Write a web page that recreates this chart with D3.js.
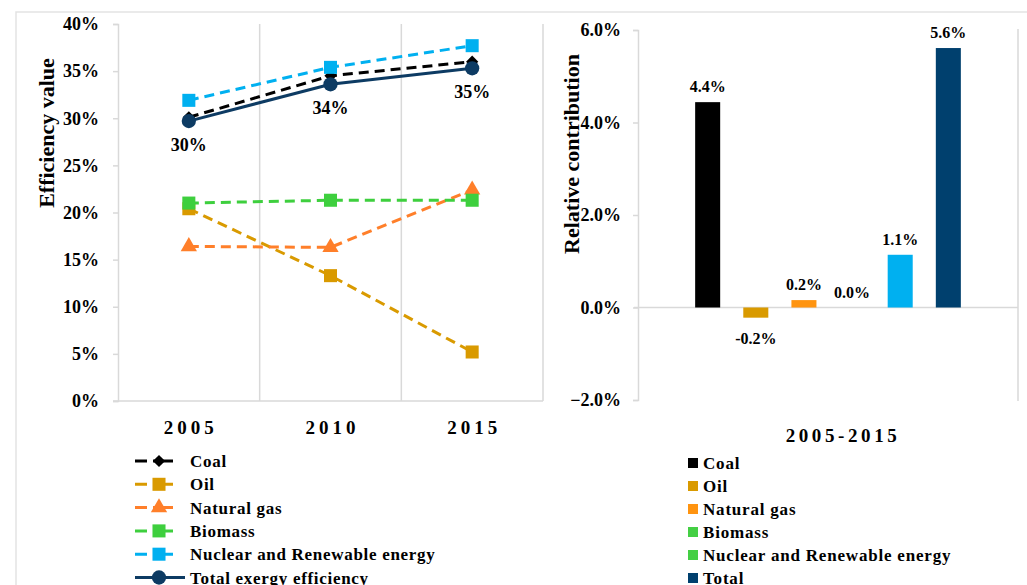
<!DOCTYPE html>
<html>
<head>
<meta charset="utf-8">
<script src="https://cdn.jsdelivr.net/npm/d3@7"></script>
<style>
	html, body { margin: 0; padding: 0; background: #fff; }
	svg text { font-family: "Liberation Serif", "Times New Roman", serif; font-weight: bold; fill: #000; }
</style>
</head>
<body>
<svg id="chart" width="1027" height="585"></svg>
<script>
// left chart: efficiency values per year
const years = ["2005", "2010", "2015"];
const seriesNames = ["Coal", "Oil", "Natural gas", "Biomass", "Nuclear and Renewable energy", "Total exergy efficiency"];
const coal = [0.301, 0.345, 0.360];
const oil = [0.204, 0.133, 0.052];
const naturalGas = [0.164, 0.163, 0.224];
const biomass = [0.210, 0.213, 0.213];
const nuclearRenewable = [0.319, 0.354, 0.377];
const totalExergy = [0.297, 0.336, 0.353];
const effTicks = [0, 0.05, 0.1, 0.15, 0.2, 0.25, 0.3, 0.35, 0.4];

// right chart: relative contribution 2005-2015
const period = ["2005-2015"];
const barNames = ["Coal", "Oil", "Natural gas", "Biomass", "Nuclear and Renewable energy", "Total"];
const contribution = [0.0444, -0.0022, 0.0016, 0.0, 0.0114, 0.0561];
const contribTicks = [-0.02, 0, 0.02, 0.04, 0.06];
const barLegendColors = ["#000000", "#d99a00", "#ff9410", "#44cf44", "#44cf44", "#00406e"];

const svg = d3.select("#chart");
const grid = "#d9d9d9";

// outer frame
svg.append("path")
	.attr("d", "M16,585V12H1027")
	.attr("fill", "none")
	.attr("stroke", "#e3e3e3")
	.attr("stroke-width", 1.5);

// ---------- left chart ----------
const x = d3.scaleBand().domain(years).range([118, 543]);
const y = d3.scaleLinear().domain([0, 0.4]).range([401, 24]);

const gl = svg.append("g");

// vertical gridlines at category boundaries
gl.selectAll("line.vgrid")
	.data(years)
	.enter()
	.append("line")
	.attr("class", "vgrid")
	.attr("x1", (d) => x(d) + x.bandwidth())
	.attr("x2", (d) => x(d) + x.bandwidth())
	.attr("y1", y(0.4))
	.attr("y2", y(0))
	.attr("stroke", grid)
	.attr("stroke-width", 1.5);

const yAxisL = gl.append("g")
	.attr("transform", "translate(118,0)")
	.call(d3.axisLeft(y).tickValues(effTicks).tickFormat(d3.format(".0%")).tickSize(5).tickPadding(14));
yAxisL.select(".domain").attr("stroke", grid).attr("stroke-width", 1.5);
yAxisL.selectAll(".tick line").attr("stroke", grid).attr("stroke-width", 1.5);
yAxisL.selectAll(".tick text").style("font-size", "18px");

gl.append("line")
	.attr("x1", 113).attr("x2", 543)
	.attr("y1", y(0)).attr("y2", y(0))
	.attr("stroke", grid).attr("stroke-width", 1.5);

gl.selectAll("text.xlab")
	.data(years)
	.enter()
	.append("text")
	.attr("class", "xlab")
	.attr("x", (d) => x(d) + x.bandwidth() / 2 + 2)
	.attr("y", 434)
	.attr("text-anchor", "middle")
	.style("font-size", "19px")
	.style("letter-spacing", "4px")
	.text((d) => d);

gl.append("text")
	.attr("transform", "translate(54,133) rotate(-90)")
	.attr("text-anchor", "middle")
	.style("font-size", "22px")
	.text("Efficiency value");

const lineSeries = [
	{ name: seriesNames[0], values: coal, color: "#000000", dash: "10,6", marker: "diamond" },
	{ name: seriesNames[1], values: oil, color: "#d99a00", dash: "10,6", marker: "square" },
	{ name: seriesNames[2], values: naturalGas, color: "#ff7f2a", dash: "10,6", marker: "triangle" },
	{ name: seriesNames[3], values: biomass, color: "#3ecf3e", dash: "10,6", marker: "square" },
	{ name: seriesNames[4], values: nuclearRenewable, color: "#00b0f0", dash: "10,6", marker: "square" },
	{ name: seriesNames[5], values: totalExergy, color: "#0d3b63", dash: null, marker: "circle" },
];

// diamond is a square turned by 45 degrees
const markerSize = { diamond: 75, square: 170, triangle: 115, circle: 160 };
const markerType = { diamond: d3.symbolSquare, square: d3.symbolSquare, triangle: d3.symbolTriangle, circle: d3.symbolCircle };
const markerRot = { diamond: 45, square: 0, triangle: 0, circle: 0 };

const line = d3.line()
	.x((d, i) => x(years[i]) + x.bandwidth() / 2)
	.y((d) => y(d));

lineSeries.forEach((s) => {
	const g = gl.append("g");
	g.append("path")
		.attr("d", line(s.values))
		.attr("fill", "none")
		.attr("stroke", s.color)
		.attr("stroke-width", 3)
		.attr("stroke-dasharray", s.dash);
	g.selectAll("path.mark")
		.data(s.values)
		.enter()
		.append("path")
		.attr("class", "mark")
		.attr("d", d3.symbol().type(markerType[s.marker]).size(markerSize[s.marker]))
		.attr("transform", (d, i) => `translate(${x(years[i]) + x.bandwidth() / 2},${y(d)}) rotate(${markerRot[s.marker]})`)
		.attr("fill", s.color);
});

// total labels
gl.selectAll("text.tot")
	.data(totalExergy)
	.enter()
	.append("text")
	.attr("class", "tot")
	.attr("x", (d, i) => x(years[i]) + x.bandwidth() / 2)
	.attr("y", (d) => y(d) + 30)
	.attr("text-anchor", "middle")
	.style("font-size", "18px")
	.text((d) => d3.format(".0%")(d));

// left legend
const legL = gl.append("g").attr("transform", "translate(0,461)");
lineSeries.forEach((s, i) => {
	const row = legL.append("g").attr("transform", `translate(0,${i * 23.3})`);
	const isTotal = s.dash === null;
	row.append("line")
		.attr("x1", 135).attr("x2", isTotal ? 185 : 173)
		.attr("y1", 0).attr("y2", 0)
		.attr("stroke", s.color)
		.attr("stroke-width", 3)
		.attr("stroke-dasharray", s.dash ? "12,6,20" : null);
	row.append("path")
		.attr("d", d3.symbol().type(markerType[s.marker]).size(markerSize[s.marker]))
		.attr("transform", `translate(159,0) rotate(${markerRot[s.marker]})`)
		.attr("fill", s.color);
	row.append("text")
		.attr("x", 190)
		.attr("y", 6)
		.style("font-size", "17px")
		.style("letter-spacing", "0.7px")
		.text(s.name);
});

// ---------- right chart ----------
const xr = d3.scaleBand().domain(period).range([638, 1018]);
const yr = d3.scaleLinear().domain([-0.02, 0.06]).range([400, 30]);
const bx = xr(period[0]), bw = xr.bandwidth();
const xi = d3.scaleBand().domain(barNames).range([bx + bw * 0.12, bx + bw * 0.88]).paddingInner(0.48).paddingOuter(0.24);

const gr = svg.append("g");

gr.append("line")
	.attr("x1", 1018).attr("x2", 1018)
	.attr("y1", 29).attr("y2", 401)
	.attr("stroke", grid).attr("stroke-width", 1.5);

const yAxisR = gr.append("g")
	.attr("transform", "translate(638,0)")
	.call(d3.axisLeft(yr).tickValues(contribTicks).tickFormat(d3.format(".1%")).tickSize(5).tickPadding(12));
yAxisR.select(".domain").attr("stroke", grid).attr("stroke-width", 1.5);
yAxisR.selectAll(".tick line").attr("stroke", grid).attr("stroke-width", 1.5);
yAxisR.selectAll(".tick text").style("font-size", "18px");

gr.append("line")
	.attr("x1", 634).attr("x2", 1018)
	.attr("y1", yr(0)).attr("y2", yr(0))
	.attr("stroke", grid).attr("stroke-width", 1.5);

const barColors = ["#000000", "#d99a00", "#ff9410", "#44cf44", "#00b0f0", "#00406e"];

gr.selectAll("rect.bar")
	.data(contribution)
	.enter()
	.append("rect")
	.attr("class", "bar")
	.attr("x", (d, i) => xi(barNames[i]))
	.attr("width", xi.bandwidth())
	.attr("y", (d) => yr(Math.max(0, d)))
	.attr("height", (d) => Math.abs(yr(d) - yr(0)))
	.attr("fill", (d, i) => barColors[i]);

gr.selectAll("text.val")
	.data(contribution)
	.enter()
	.append("text")
	.attr("class", "val")
	.attr("x", (d, i) => xi(barNames[i]) + xi.bandwidth() / 2)
	.attr("y", (d) => (d < 0 ? yr(d) + 26 : yr(d) - 10))
	.attr("text-anchor", "middle")
	.style("font-size", "16px")
	.text((d) => d3.format(".1%")(d).replace("−", "-"));

gr.append("text")
	.attr("x", bx + bw / 2 + 15)
	.attr("y", 442)
	.attr("text-anchor", "middle")
	.style("font-size", "19px")
	.style("letter-spacing", "3.6px")
	.text(period[0]);

gr.append("text")
	.attr("transform", "translate(579,154) rotate(-90)")
	.attr("text-anchor", "middle")
	.style("font-size", "22px")
	.text("Relative contribution");

// right legend
const legR = gr.append("g").attr("transform", "translate(0,463)");
barNames.forEach((n, i) => {
	const row = legR.append("g").attr("transform", `translate(0,${i * 23})`);
	row.append("rect")
		.attr("x", 688).attr("y", -5)
		.attr("width", 10).attr("height", 10)
		.attr("fill", barLegendColors[i]);
	row.append("text")
		.attr("x", 703)
		.attr("y", 6)
		.style("font-size", "17px")
		.style("letter-spacing", "0.8px")
		.text(n);
});
</script>
</body>
</html>
